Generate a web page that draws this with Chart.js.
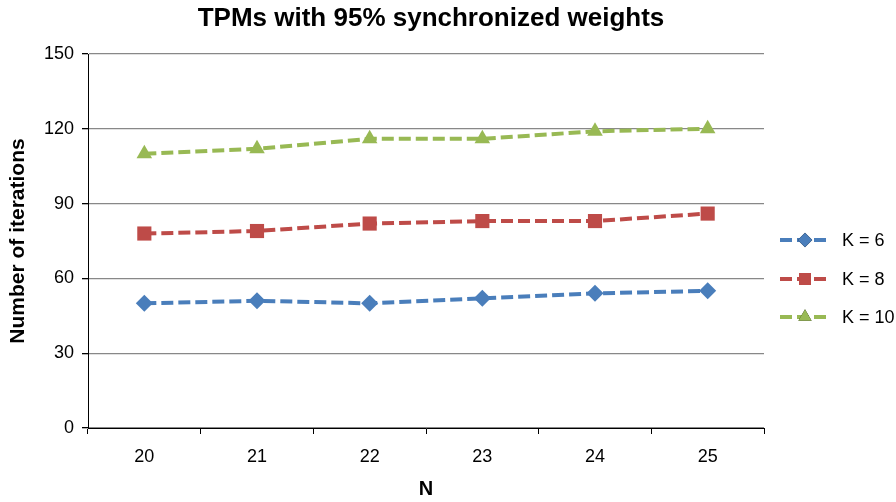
<!DOCTYPE html>
<html>
<head>
<meta charset="utf-8">
<script src="https://cdn.jsdelivr.net/npm/chart.js@4"></script>
<style>
  html, body { margin: 0; padding: 0; background: #fff; }
  #wrap { width: 896px; height: 502px; position: relative; }
</style>
</head>
<body>
<div id="wrap"><canvas id="chart"></canvas></div>
<script>
const nLabels = ["20", "21", "22", "23", "24", "25"];
const k6 = [50, 51, 50, 52, 54, 55];
const k8 = [78, 79, 82, 83, 83, 86];
const k10 = [110, 112, 116, 116, 119, 120];
const yTicks = [0, 30, 60, 90, 120, 150];

const FONT = "'Liberation Sans', Arial, sans-serif";

const series = [
  { label: "K = 6", data: k6, color: "#4A7EBB", point: "rectRot", radius: 8.5 },
  { label: "K = 8", data: k8, color: "#BE4B48", point: "rect", radius: 10 },
  { label: "K = 10", data: k10, color: "#98B954", point: "triangle", radius: 9 },
];

// title and legend drawn by hand so they sit where Excel put them
const decorPlugin = {
  id: "decor",
  afterDraw(chart) {
    const ctx = chart.ctx;
    ctx.save();
    ctx.fillStyle = "#000";
    ctx.font = "bold 26px " + FONT;
    ctx.textAlign = "center";
    ctx.textBaseline = "middle";
    ctx.fillText("TPMs with 95% synchronized weights", 431, 19);

    const rows = [240, 279, 317];
    chart.data.datasets.forEach((ds, i) => {
      const y = rows[i];
      ctx.strokeStyle = ds.borderColor;
      ctx.lineWidth = 4;
      ctx.setLineDash([12, 5]);
      ctx.beginPath();
      ctx.moveTo(780, y);
      ctx.lineTo(830, y);
      ctx.stroke();
      ctx.setLineDash([]);
      Chart.helpers.drawPoint(ctx, {
        pointStyle: ds.pointStyle,
        radius: ds.pointRadius * 0.85,
        rotation: 0,
        borderWidth: 0,
      }, 805, y);
      ctx.fillStyle = ds.borderColor;
      ctx.fill();
      ctx.fillStyle = "#000";
      ctx.font = "18px " + FONT;
      ctx.textAlign = "left";
      ctx.fillText(ds.label, 842, y + 1);
    });
    ctx.restore();
  },
};

new Chart(document.getElementById("chart"), {
  type: "line",
  data: {
    labels: nLabels,
    datasets: series.map((s) => ({
      label: s.label,
      data: s.data,
      borderColor: s.color,
      backgroundColor: s.color,
      borderWidth: 4,
      borderDash: [12, 5],
      pointStyle: s.point,
      pointRadius: s.radius,
      pointHoverRadius: s.radius,
      pointBorderWidth: 0,
      pointBackgroundColor: s.color,
      tension: 0,
    })),
  },
  plugins: [decorPlugin],
  options: {
    responsive: true,
    maintainAspectRatio: false,
    animation: false,
    layout: { padding: { top: 54, right: 132, left: 0, bottom: 0 } },
    plugins: {
      legend: { display: false },
      title: { display: false },
      tooltip: { enabled: false },
    },
    scales: {
      x: {
        offset: true,
        afterFit: (scale) => { scale.height = 74; },
        grid: {
          offset: true,
          drawOnChartArea: false,
          drawTicks: true,
          tickLength: 6,
          color: "#000",
        },
        border: { color: "#000", width: 1 },
        ticks: {
          color: "#000",
          padding: 12,
          font: { family: FONT, size: 18 },
        },
        title: {
          display: true,
          text: "N",
          color: "#000",
          font: { family: FONT, size: 20, weight: "bold" },
          padding: { top: 0, bottom: 1 },
        },
      },
      y: {
        min: 0,
        max: 150,
        afterFit: (scale) => { scale.width = 88; },
        afterBuildTicks: (scale) => {
          scale.ticks = yTicks.map((v) => ({ value: v }));
        },
        grid: {
          color: "#888",
          lineWidth: 1.3,
          drawTicks: true,
          tickLength: 6,
          tickColor: "#000",
        },
        border: { color: "#000", width: 1 },
        ticks: {
          color: "#000",
          padding: 8,
          font: { family: FONT, size: 18 },
        },
        title: {
          display: true,
          text: "Number of iterations",
          color: "#000",
          font: { family: FONT, size: 21, weight: "bold" },
          padding: { top: 6, bottom: 0 },
        },
      },
    },
  },
});
</script>
</body>
</html>
